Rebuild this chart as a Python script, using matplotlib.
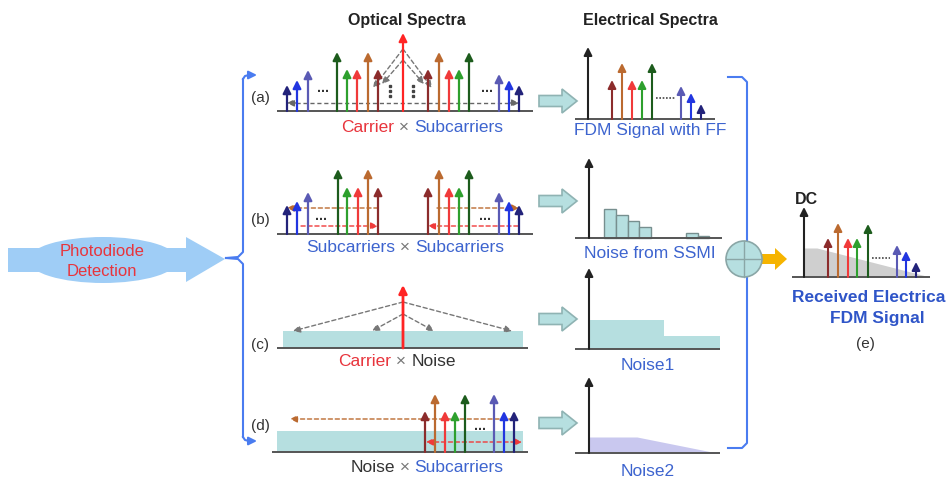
import matplotlib
matplotlib.use('Agg')
import matplotlib.pyplot as plt
from matplotlib.patches import FancyArrow, FancyArrowPatch, Rectangle, Ellipse, Polygon, Circle

plt.rcParams['font.family'] = ['Liberation Sans', 'DejaVu Sans']

# colours of the sub-carriers
NAVY, BLUE, SLATE = '#23237a', '#2236e0', '#5a5ab4'
DKGREEN, GREEN = '#1d5c1d', '#2ea02e'
RED, BROWN, DKRED, CRED = '#f03a3a', '#bb6a30', '#8c2c2c', '#ff2424'
TEAL, TEAL_EDGE = '#b6dfe0', '#8fb3b3'
TXT_BLUE, TXT_RED = '#3d64cf', '#e8343c'

# ---- data: line positions and amplitudes ----
opt_a_x = [287, 297, 308, 337, 347, 357, 368, 378, 403, 428, 439, 449, 459, 469, 499, 509, 519]
opt_a_h = [26, 31, 41, 59, 42, 42, 59, 42, 78, 42, 59, 42, 42, 59, 37, 31, 26]
opt_a_c = [NAVY, BLUE, SLATE, DKGREEN, GREEN, RED, BROWN, DKRED, CRED,
           DKRED, BROWN, RED, GREEN, DKGREEN, SLATE, BLUE, NAVY]

opt_b_x = [287, 297, 308, 338, 347, 358, 368, 378, 428, 439, 449, 459, 469, 499, 509, 519]
opt_b_h = [29, 33, 42, 65, 47, 47, 65, 47, 47, 65, 47, 47, 65, 42, 33, 29]
opt_b_c = [NAVY, BLUE, SLATE, DKGREEN, GREEN, RED, BROWN, DKRED,
           DKRED, BROWN, RED, GREEN, DKGREEN, SLATE, BLUE, NAVY]

opt_d_x = [425, 435, 445, 455, 465, 494, 504, 514]
opt_d_h = [41, 58, 41, 41, 58, 58, 41, 41]
opt_d_c = [DKRED, BROWN, RED, GREEN, DKGREEN, SLATE, BLUE, NAVY]

ele_a_x = [588, 612, 622, 632, 642, 652, 681, 691, 701]
ele_a_h = [72, 39, 56, 39, 39, 56, 33, 26, 15]
ele_a_c = ['#222222', DKRED, BROWN, RED, GREEN, DKGREEN, SLATE, BLUE, NAVY]

ele_e_x = [804, 828, 838, 848, 857, 868, 897, 906, 916]
ele_e_h = [70, 39, 54, 39, 39, 53, 32, 26, 15]
ele_e_c = ele_a_c

ssmi_edges = [[604, 616, 628, 639, 651], [686, 698, 709]]
ssmi_h = [[29, 23, 17, 11], [5, 2]]

noise1_x = [589, 664, 664, 720]
noise1_h = [29, 29, 13, 13]
noise2_x = [589, 637, 717]
noise2_h = [16, 16, 0]
recv_x = [804, 817, 930]
recv_h = [29, 29, 0]

fig = plt.figure(figsize=(9.49, 4.84), dpi=100)
ax = fig.add_axes([0, 0, 1, 1])
ax.set_xlim(0, 949)
ax.set_ylim(484, 0)
ax.axis('off')


def up(x, base, h, color, lw=1.6, ms=6):
    ax.annotate('', xy=(x, base - h), xytext=(x, base),
                arrowprops=dict(arrowstyle='-|>,head_width=0.4,head_length=0.8',
                                color=color, lw=lw, shrinkA=0, shrinkB=0,
                                mutation_scale=ms))


def dashed(p0, p1, color, style='-|>', lw=1.0):
    ax.add_patch(FancyArrowPatch(p0, p1, arrowstyle=style + ',head_width=0.3,head_length=0.6',
                                 color=color, lw=lw, ls=(0, (3, 2)),
                                 mutation_scale=7, shrinkA=0, shrinkB=0))


def base_line(x0, x1, y):
    ax.plot([x0, x1], [y, y], color='#555555', lw=1.4, solid_capstyle='butt')


def dots(x, y, color='#333333'):
    ax.text(x, y, '...', ha='center', va='center', fontsize=10, color=color,
            fontweight='bold')


def block_arrow(y):
    ax.add_patch(FancyArrow(539, y, 38, 0, width=11, head_width=24, head_length=15,
                            length_includes_head=True, fc=TEAL, ec=TEAL_EDGE, lw=1.2))


def mixed_label(x, y, parts, size=12.5):
    # parts: list of (text, color); laid out left to right, centred at x
    r = fig.canvas.get_renderer()
    widths = []
    items = []
    for t, c in parts:
        tt = ax.text(0, y, t, fontsize=size, color=c, va='center', ha='left')
        bb = tt.get_window_extent(renderer=r)
        widths.append(bb.width)
        items.append(tt)
    start = x - sum(widths) / 2
    for tt, w in zip(items, widths):
        tt.set_x(start)
        start += w


# titles
ax.text(407, 20, 'Optical Spectra', ha='center', va='center', fontsize=11.5, fontweight='bold', color='#222222')
ax.text(650, 20, 'Electrical Spectra', ha='center', va='center', fontsize=11.5, fontweight='bold', color='#222222')

# ---- photodiode arrow ----
pd_col = '#9fcdf6'
ax.add_patch(Rectangle((8, 248), 182, 24, fc=pd_col, ec='none'))
ax.add_patch(Ellipse((103, 260), 150, 46, fc=pd_col, ec='none'))
ax.add_patch(Polygon([(186, 237), (225, 259), (186, 282)], closed=True, fc=pd_col, ec='none'))
ax.text(102, 251, 'Photodiode', ha='center', va='center', fontsize=12, color=TXT_RED)
ax.text(102, 271, 'Detection', ha='center', va='center', fontsize=12, color=TXT_RED)

# ---- left brace ----
bc = '#4a7cf0'
ax.plot([243, 243, 238, 226], [79, 252, 257, 258], color=bc, lw=1.5)
ax.plot([226, 238, 243, 243], [258, 259, 264, 437], color=bc, lw=1.5)
for yy, sgn in [(79, 1), (437, -1)]:
    ax.plot([243, 245, 249], [yy, yy - 3 * sgn, yy - 4 * sgn], color=bc, lw=1.5)
    ax.annotate('', xy=(257, yy - 4 * sgn), xytext=(248, yy - 4 * sgn),
                arrowprops=dict(arrowstyle='-|>,head_width=0.3,head_length=0.6', color=bc,
                                lw=1.5, shrinkA=0, shrinkB=0, mutation_scale=8))

# ---- right brace ----
ax.plot([728, 742, 747, 747, 742, 728], [77, 77, 82, 443, 448, 448], color=bc, lw=1.5)
ax.add_patch(Circle((744, 259), 18, fc=TEAL, ec='#8aa6a6', lw=1.2, zorder=3))
ax.plot([726, 762], [259, 259], color='#8aa6a6', lw=1.0, zorder=4)
ax.plot([744, 744], [241, 277], color='#8aa6a6', lw=1.0, zorder=4)
ax.add_patch(FancyArrow(762, 259, 25, 0, width=10, head_width=22, head_length=12,
                        length_includes_head=True, fc='#f6b400', ec='none'))

# ---- panel (a) optical ----
yb = 111
base_line(277, 533, yb)
dashed((403, 49), (373, 88), '#777777')
dashed((403, 49), (432, 88), '#777777')
dashed((403, 60), (382, 84), '#777777')
dashed((403, 60), (424, 84), '#777777')
dashed((296, 103), (287, 103), '#666666')
ax.plot([296, 510], [103, 103], color='#666666', lw=1.0, ls=(0, (3, 2)))
dashed((510, 103), (519, 103), '#666666')
for x, h, c in zip(opt_a_x, opt_a_h, opt_a_c):
    up(x, yb, h, c)
dots(323, 88)
dots(487, 88)
for xv in [390, 413]:
    for yv in [86, 91, 96]:
        ax.plot(xv, yv, 's', ms=1.6, color='#444444')
ax.text(260, 98, '(a)', ha='center', va='center', fontsize=11, color='#333333')
mixed_label(422, 127, [('Carrier', TXT_RED), (' × ', '#777777'), ('Subcarriers', TXT_BLUE)])

# ---- panel (b) optical ----
yb = 234
base_line(277, 533, yb)
dashed((378, 208), (287, 208), BROWN, '-|>')
dashed((301, 226), (378, 226), RED, '-|>')
dashed((518, 226), (428, 226), RED, '-|>')
dashed((437, 208), (519, 208), BROWN, '-|>')
for x, h, c in zip(opt_b_x, opt_b_h, opt_b_c):
    up(x, yb, h, c)
dots(321, 216)
dots(485, 216)
ax.text(260, 220, '(b)', ha='center', va='center', fontsize=11, color='#333333')
mixed_label(405, 247, [('Subcarriers', TXT_BLUE), (' × ', '#777777'), ('Subcarriers', TXT_BLUE)])

# ---- panel (c) optical ----
yb = 348
ax.add_patch(Rectangle((283, 331), 240, yb - 331, fc=TEAL, ec='none'))
base_line(277, 528, yb)
dashed((403, 302), (293, 331), '#777777')
dashed((403, 302), (512, 331), '#777777')
dashed((403, 314), (372, 331), '#777777')
dashed((403, 314), (434, 331), '#777777')
up(403, yb, 63, CRED, lw=2.0)
ax.text(260, 345, '(c)', ha='center', va='center', fontsize=11, color='#333333')
mixed_label(397, 362, [('Carrier', TXT_RED), (' × ', '#777777'), ('Noise', '#333333')])

# ---- panel (d) optical ----
yb = 452
ax.add_patch(Rectangle((277, 431), 246, yb - 431, fc=TEAL, ec='none'))
base_line(272, 528, yb)
dashed((513, 419), (290, 419), BROWN, '-|>')
dashed((426, 442), (522, 442), RED, '<|-|>')
for x, h, c in zip(opt_d_x, opt_d_h, opt_d_c):
    up(x, yb, h, c)
dots(480, 426)
ax.text(260, 426, '(d)', ha='center', va='center', fontsize=11, color='#333333')
mixed_label(427, 467, [('Noise', '#333333'), (' × ', '#777777'), ('Subcarriers', TXT_BLUE)])

# ---- electrical (a) ----
yb = 119
base_line(575, 715, yb)
for x, h, c in zip(ele_a_x, ele_a_h, ele_a_c):
    up(x, yb, h, c, lw=1.5)
ax.plot([656, 675], [98, 98], color='#444444', lw=1.2, ls=(0, (1, 1)))
block_arrow(101)
ax.text(650, 131, 'FDM Signal with FF', ha='center', va='center', fontsize=12.5, color=TXT_BLUE)

# ---- electrical (b) ----
yb = 238
for edges, hs in zip(ssmi_edges, ssmi_h):
    for i, h in enumerate(hs):
        ax.add_patch(Rectangle((edges[i], yb - h), edges[i + 1] - edges[i], h,
                               fc=TEAL, ec='#778f8f', lw=1.0))
base_line(575, 722, yb)
up(589, yb, 80, '#222222', lw=1.5)
block_arrow(201)
ax.text(650, 254, 'Noise from SSMI', ha='center', va='center', fontsize=12.5, color=TXT_BLUE)

# ---- electrical (c) ----
yb = 349
ax.fill_between(noise1_x, yb, [yb - h for h in noise1_h], color=TEAL, lw=0)
base_line(575, 720, yb)
up(589, yb, 81, '#222222', lw=1.5)
block_arrow(319)
ax.text(648, 365, 'Noise1', ha='center', va='center', fontsize=12.5, color=TXT_BLUE)

# ---- electrical (d) ----
yb = 453
ax.fill_between(noise2_x, yb, [yb - h for h in noise2_h], color='#c9c8ef', lw=0)
base_line(575, 720, yb)
up(589, yb, 76, '#222222', lw=1.5)
block_arrow(423)
ax.text(648, 472, 'Noise2', ha='center', va='center', fontsize=12.5, color=TXT_BLUE)

# ---- received (e) ----
yb = 277
ax.fill_between(recv_x, yb, [yb - h for h in recv_h], color='#cfcfcf', lw=0)
base_line(792, 930, yb)
for x, h, c in zip(ele_e_x, ele_e_h, ele_e_c):
    up(x, yb, h, c, lw=1.5)
ax.plot([872, 890], [258, 258], color='#444444', lw=1.2, ls=(0, (1, 1)))
ax.text(806, 199, 'DC', ha='center', va='center', fontsize=11.5, fontweight='bold', color='#222222')
ax.text(792, 297, 'Received Electrica', ha='left', va='center', fontsize=12.5,
        fontweight='bold', color='#2f55c8')
ax.text(877, 318, 'FDM Signal', ha='center', va='center', fontsize=12.5,
        fontweight='bold', color='#2f55c8')
ax.text(865, 344, '(e)', ha='center', va='center', fontsize=11, color='#333333')

fig.savefig('out.png', dpi=100, facecolor='white')
